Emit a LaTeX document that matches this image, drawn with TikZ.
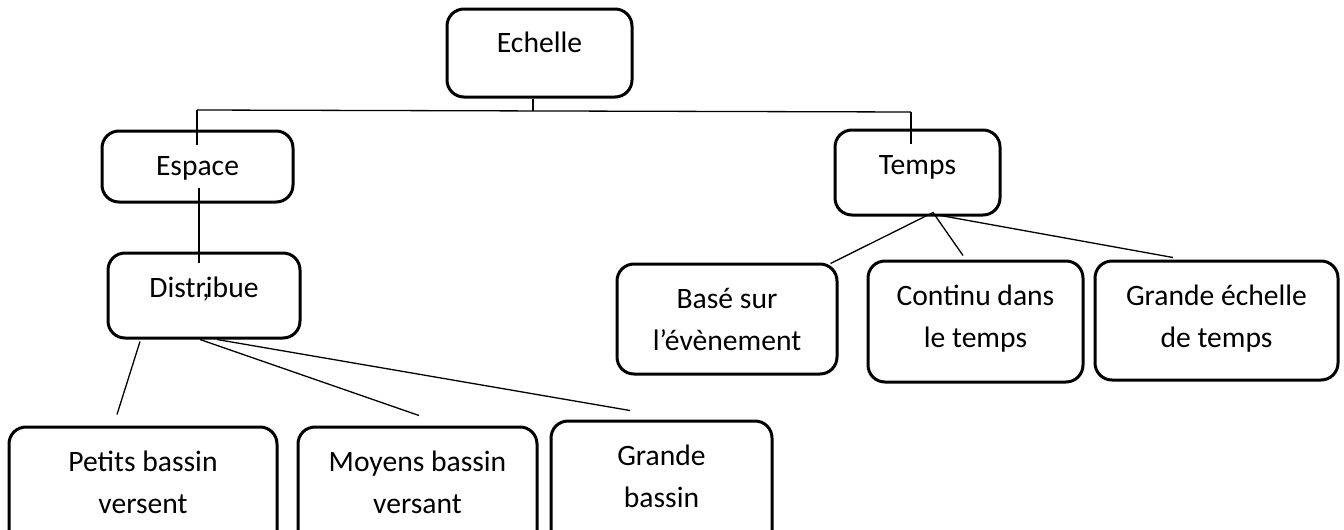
\documentclass[tikz,border=0pt]{standalone}
\usepackage{fontspec}
\setmainfont{Carlito}
\usetikzlibrary{calc}

\tikzset{
  boite/.style={draw, line width=1.5pt, rounded corners=8.5pt, inner sep=0pt,
    anchor=base, align=center, text height=22pt},
  deuxlignes/.style={text height=43pt},
  lien/.style={line width=0.65pt}
}

\begin{document}
\begin{tikzpicture}[x=0.5pt, y=-0.5pt, font=\fontsize{14.8}{21}\selectfont]

    % --- 1. Frame (bottom boxes are cut by the page edge) ---
    \useasboundingbox (0,0) rectangle (1344,530);
    \clip (0,0) rectangle (1344,530);

    % --- 2. Boxes ---
    % Placed by the baseline of their last line
    \node[boite, minimum width=92.5pt, text depth=22pt]  (echelle)   at (539.5,53)  {Echelle};
    \node[boite, minimum width=95.5pt, text depth=13.5pt] (espace)   at (197.5,175) {Espace};
    \node[boite, minimum width=82.5pt, text depth=20.5pt] (temps)    at (917.5,174) {Temps};
    \node[boite, minimum width=96pt, text depth=20.5pt]   (distribue) at (204,297)  {Distr\makebox[0pt]{,}ibue};

    \node[boite, deuxlignes, minimum width=110pt, text depth=12pt]    (base)    at (727,350)    {Basé sur\\l’évènement};
    \node[boite, deuxlignes, minimum width=107.5pt, text depth=17.5pt] (continu) at (975.5,347)  {Continu dans\\le temps};
    \node[boite, deuxlignes, minimum width=121.5pt, text depth=16.5pt] (grandee) at (1216.5,347) {Grande échelle\\de temps};

    \node[boite, deuxlignes, minimum width=134pt, text depth=19pt]   (petits)  at (143,513)   {Petits bassin\\versent};
    \node[boite, deuxlignes, minimum width=119.5pt, text depth=19pt] (moyens)  at (417.5,513) {Moyens bassin\\versant};
    \node[boite, deuxlignes, minimum width=110.5pt, text depth=22pt] (grandeb) at (661.5,507) {Grande\\bassin};

    % --- 3. Top bar ---
    \coordinate (barreG) at (197,110);
    \coordinate (barreD) at (911,112);
    \coordinate (barreM) at (533,111);
    \draw[lien] (echelle.south -| barreM) -- (barreM);
    \draw[lien] (barreG) -- (barreD);
    \draw[lien] (barreG) -- ($(espace.north -| barreG)+(0,15)$);
    \draw[lien] (barreD) -- ($(temps.north -| barreD)+(0,15)$);

    % --- 4. Space branch ---
    \draw[lien] ($(espace.south)+(1.5,-16)$) -- ($(distribue.north)+(-5,11)$);
    \draw[lien] ($(distribue.south)+(-64,2)$) -- ($(petits.north)+(-26,-11)$);
    \draw[lien] ($(distribue.south)+(-4,0)$)  -- ($(moyens.north)+(1.5,-10)$);
    \draw[lien] ($(distribue.south)+(13,0)$)  -- ($(grandeb.north)+(-31.5,-9)$);

    % --- 5. Time branch ---
    \coordinate (tnoeud) at ($(temps.south)+(15.5,-4)$);
    \draw[lien] (tnoeud) -- ($(base.north east)+(-8,1)$);
    \draw[lien] (tnoeud) -- ($(continu.north)+(-12.5,-4)$);
    \draw[lien] ($(tnoeud)+(2,2)$) -- ($(grandee.north)+(-43.5,-2)$);

\end{tikzpicture}
\end{document}
